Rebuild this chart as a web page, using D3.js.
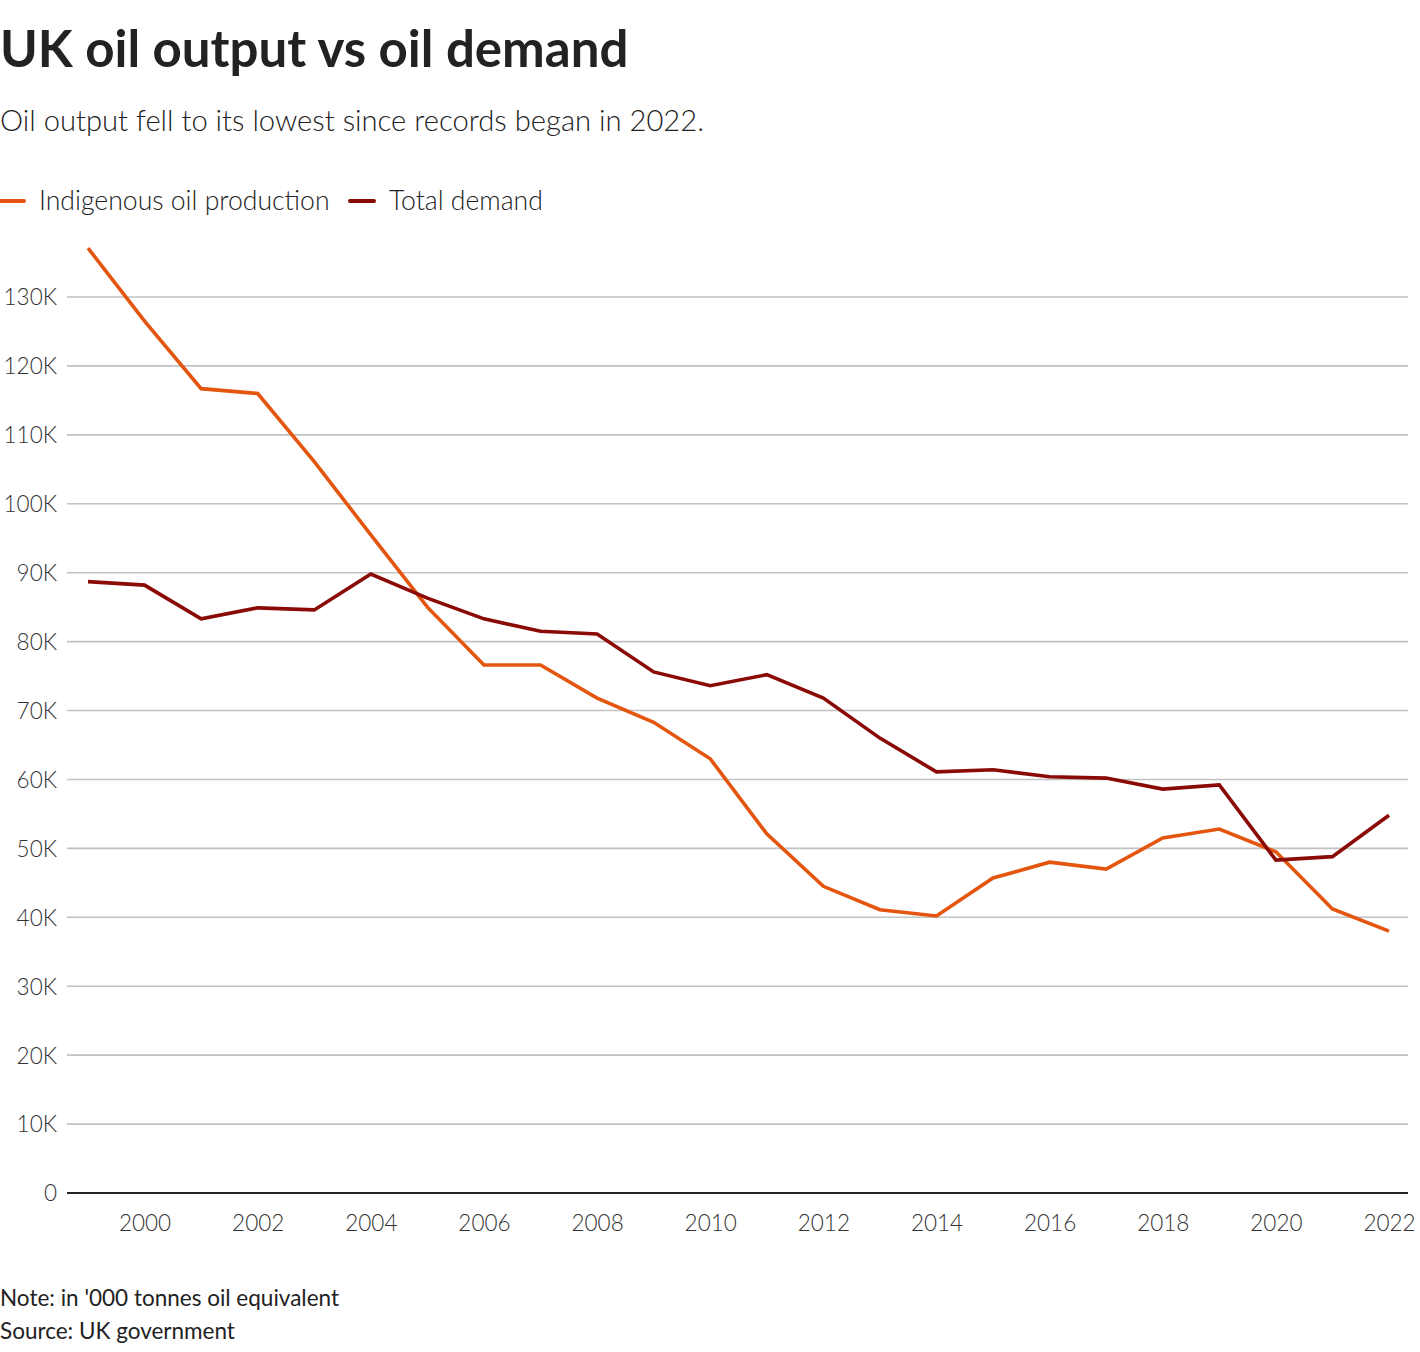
<!DOCTYPE html>
<html><head><meta charset="utf-8">
<script src="https://cdn.jsdelivr.net/npm/d3@7"></script>
<style>
body{margin:0;background:#fff;}
svg{display:block;font-family:Lato,"Open Sans",sans-serif;}
</style></head>
<body>
<svg id="chart" width="1420" height="1352"></svg>
<script>
const years = [1999,2000,2001,2002,2003,2004,2005,2006,2007,2008,2009,2010,2011,2012,2013,2014,2015,2016,2017,2018,2019,2020,2021,2022];
const production = [137.1,126.5,116.7,116.0,106.1,95.5,85.0,76.6,76.6,71.8,68.3,63.0,52.1,44.5,41.1,40.2,45.7,48.0,47.0,51.5,52.8,49.5,41.2,38.0].map(v=>v*1000);
const demand = [88.7,88.2,83.3,84.9,84.6,89.8,86.3,83.3,81.5,81.1,75.6,73.6,75.2,71.8,66.0,61.1,61.4,60.4,60.2,58.6,59.2,48.3,48.8,54.8].map(v=>v*1000);
const yTicks = [0,10000,20000,30000,40000,50000,60000,70000,80000,90000,100000,110000,120000,130000];
const xTicks = [2000,2002,2004,2006,2008,2010,2012,2014,2016,2018,2020,2022];
const seriesNames = ["Indigenous oil production","Total demand"];
const seriesColors = ["#e4560f","#8a0a06"];

const svg = d3.select("#chart");
const x = d3.scaleLinear().domain([1999,2022]).range([88,1389]);
const y = d3.scaleLinear().domain([0,130000]).range([1193,297]);
const gridX0 = 67, gridX1 = 1408;

// title
svg.append("text").attr("x",0).attr("y",67).attr("font-size",51).attr("font-weight",700).attr("fill","#222").text("UK oil output vs oil demand");
svg.append("text").attr("x",0).attr("y",131).attr("font-size",29.2).attr("font-weight",300).attr("fill","#222").text("Oil output fell to its lowest since records began in 2022.");

// legend
const leg = svg.append("g");
const legX = [0,350];
seriesNames.forEach((n,i)=>{
  leg.append("line").attr("x1",legX[i]).attr("x2",legX[i]+24).attr("y1",201).attr("y2",201).attr("stroke",seriesColors[i]).attr("stroke-width",4).attr("stroke-linecap","round");
  leg.append("text").attr("x",legX[i]+39).attr("y",210).attr("font-size",26.6).attr("font-weight",300).attr("fill","#222").text(n);
});

// grid + y labels
const yAxis = d3.axisLeft(y).tickValues(yTicks).tickSize(0).tickPadding(0)
  .tickFormat(d=> d===0 ? "0" : (d/1000)+"K");
const gy = svg.append("g").attr("transform",`translate(57,0)`).call(yAxis);
gy.select(".domain").remove();
gy.selectAll("text").attr("font-size",22.5).attr("font-weight",300).attr("fill","#333").attr("font-family","Lato,sans-serif").attr("dy","0.35em");
svg.append("g").selectAll("line").data(yTicks.filter(d=>d>0)).join("line")
  .attr("x1",gridX0).attr("x2",gridX1).attr("y1",d=>y(d)).attr("y2",d=>y(d))
  .attr("stroke","#c2c2c2").attr("stroke-width",1.6);

// x axis
const xAxis = d3.axisBottom(x).tickValues(xTicks).tickSize(0).tickPadding(0).tickFormat(d3.format("d"));
const gx = svg.append("g").attr("transform",`translate(0,1215)`).call(xAxis);
gx.select(".domain").remove();
gx.selectAll("text").attr("font-size",22.5).attr("font-weight",300).attr("fill","#333").attr("font-family","Lato,sans-serif").attr("dy","0.71em");
svg.append("line").attr("x1",gridX0).attr("x2",gridX1).attr("y1",y(0)).attr("y2",y(0)).attr("stroke","#222").attr("stroke-width",2);

// lines
const line = d3.line().x((d,i)=>x(years[i])).y(d=>y(d));
[production,demand].forEach((s,i)=>{
  svg.append("path").datum(s).attr("d",line).attr("fill","none").attr("stroke",seriesColors[i])
    .attr("stroke-width",3.6).attr("stroke-linejoin","miter").attr("stroke-linecap","butt");
});

// notes
svg.append("text").attr("x",0).attr("y",1306).attr("font-size",22.5).attr("fill","#222").text("Note: in '000 tonnes oil equivalent");
svg.append("text").attr("x",0).attr("y",1339).attr("font-size",22.5).attr("fill","#222").text("Source: UK government");
</script>
</body></html>
